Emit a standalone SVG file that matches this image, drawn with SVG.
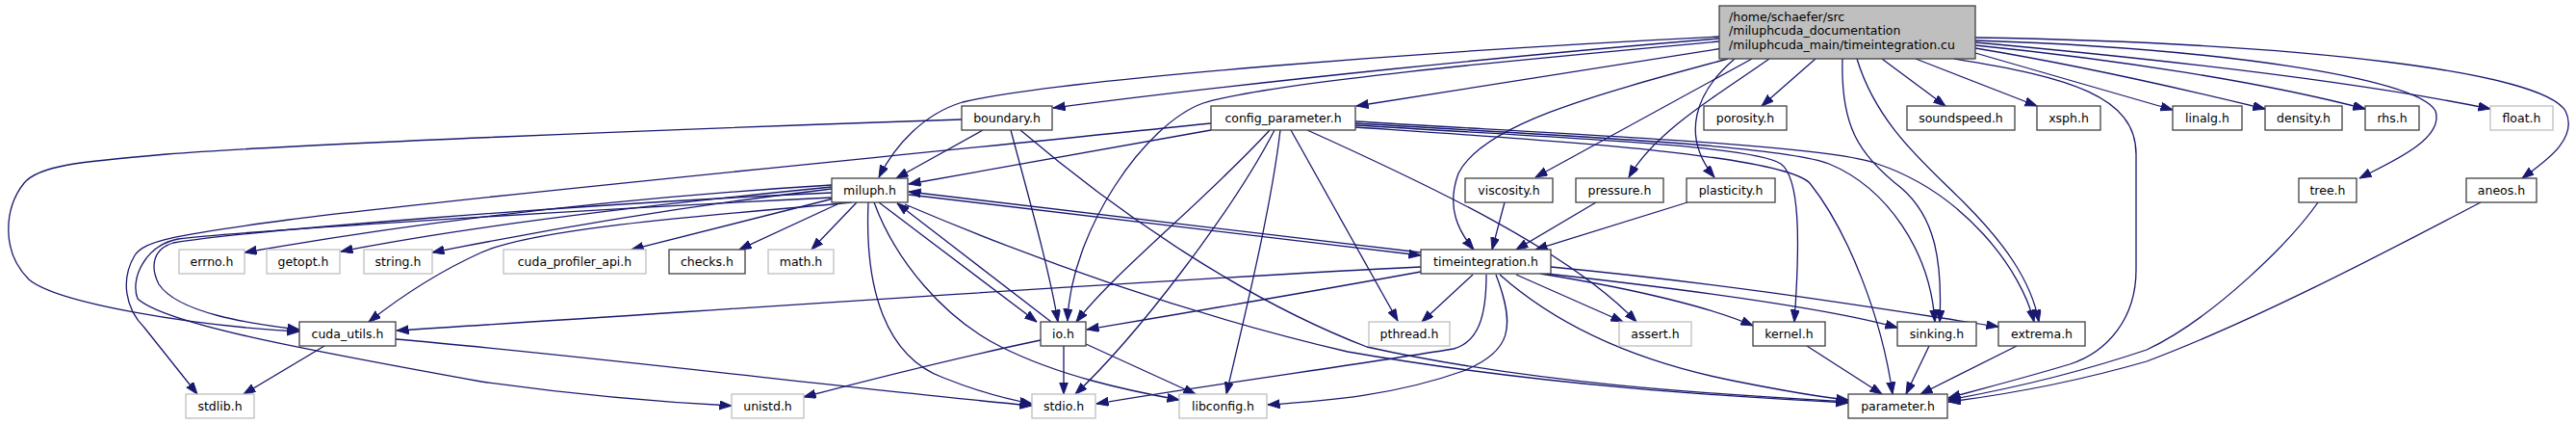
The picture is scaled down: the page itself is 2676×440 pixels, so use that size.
<svg xmlns="http://www.w3.org/2000/svg" width="2676" height="440" viewBox="0 0 2676 440">
<style>
.n rect{fill:#fff;stroke:#404040;stroke-width:1.3}
.g rect{fill:#fff;stroke:#bfbfbf;stroke-width:1.3}
.r rect{fill:#bfbfbf;stroke:#404040;stroke-width:1.3}
text{font-family:"DejaVu Sans",sans-serif;font-size:12.5px;fill:#000}
.n text,.g text{text-anchor:middle}
#edges path{fill:none;stroke:#191970;stroke-width:1.3;marker-end:url(#ah)}
</style>
<defs>
<marker id="ah" markerUnits="userSpaceOnUse" markerWidth="13" markerHeight="10" refX="12.5" refY="4.5" orient="auto"><path d="M0,0L12.5,4.5L0,9z" fill="#191970" stroke="#191970" stroke-width="1"/></marker>
</defs>
<rect width="2676" height="440" fill="#fff"/>
<g id="edges">
<path d="M1786,38 C1500,52 1100,82 1000,106 C960,118 930,150 913,184"/>
<path d="M1786,40 C1600,55 1300,85 1094,112"/>
<path d="M1786,43 C1600,60 1320,85 1250,107 C1190,128 1112,240 1109,333"/>
<path d="M1790,50 L1409,110"/>
<path d="M1795,61 C1650,100 1540,130 1515,180 C1502,215 1515,240 1531,259"/>
<path d="M1820,61 L1595,184"/>
<path d="M1838,61 C1790,95 1720,135 1692,184"/>
<path d="M1802,61 C1762,95 1745,140 1781,184"/>
<path d="M1886,61 L1830,110"/>
<path d="M1955,61 L2021,110"/>
<path d="M1990,61 L2116,110"/>
<path d="M2052,55 L2257,114"/>
<path d="M2052,50 C2150,66 2250,88 2353,113"/>
<path d="M2052,47 C2200,62 2350,85 2457,113"/>
<path d="M2052,44 C2250,62 2450,85 2587,113"/>
<path d="M2052,42 C2300,50 2510,80 2530,115 C2540,145 2480,170 2451,185"/>
<path d="M2052,39 C2400,45 2640,75 2665,115 C2680,145 2640,170 2620,185"/>
<path d="M2030,61 C2150,80 2219,100 2219,160 L2219,280 C2219,330 2190,365 2150,378 C2100,393 2060,403 2024,413"/>
<path d="M1914,61 C1912,130 1930,160 1975,195 C2010,225 2018,270 2015,334"/>
<path d="M1929,61 C1950,130 2000,170 2040,210 C2080,250 2110,290 2118,334"/>
<path d="M1408,128 C1600,140 1850,150 1900,170 C1960,195 2005,260 2010,334"/>
<path d="M1408,126 C1600,138 1900,150 1950,170 C2040,200 2100,280 2113,334"/>
<path d="M1408,130 C1600,142 1820,150 1850,170 C1870,185 1870,250 1864,334"/>
<path d="M1408,132 C1600,145 1850,160 1880,190 C1920,240 1955,330 1966,409"/>
<path d="M1258,135 L944,191"/>
<path d="M1319,135 C1250,210 1160,280 1118,334"/>
<path d="M1324,135 C1280,220 1180,350 1117,409"/>
<path d="M1330,135 C1320,220 1290,340 1274,409"/>
<path d="M1341,135 L1452,333"/>
<path d="M1358,135 C1480,190 1630,260 1700,334"/>
<path d="M1258,128 C900,165 450,208 300,228 C180,244 150,250 140,265 C125,290 130,320 150,340 C170,365 190,390 205,409"/>
<path d="M1021,135 L931,185"/>
<path d="M1050,135 C1070,210 1090,280 1099,334"/>
<path d="M1060,135 C1160,220 1290,310 1420,360 C1600,400 1800,410 1920,417"/>
<path d="M999,124 C700,134 300,150 173,160 C80,168 40,172 25,190 C5,215 0,260 30,290 C60,315 200,338 311,344"/>
<path d="M864,192 C650,205 450,228 254,262"/>
<path d="M864,194 C700,210 500,232 354,261"/>
<path d="M864,196 C700,215 560,240 449,262"/>
<path d="M866,206 L656,259"/>
<path d="M874,210 L768,259"/>
<path d="M890,210 L843,259"/>
<path d="M885,210 C760,222 560,235 500,262 C460,280 420,305 383,334"/>
<path d="M864,200 C600,212 250,240 180,252 C160,258 155,275 165,295 C185,325 260,336 311,342"/>
<path d="M864,205 C600,218 250,240 185,248 C150,255 135,290 143,310 C170,335 300,360 500,396 C600,410 700,418 760,421"/>
<path d="M913,210 L1077,334"/>
<path d="M1092,334 L932,211"/>
<path d="M902,210 C898,300 920,370 980,392 C1020,408 1050,415 1072,419"/>
<path d="M908,210 C930,270 980,330 1040,360 C1100,390 1170,405 1225,415"/>
<path d="M940,212 C1100,280 1250,330 1400,365 C1600,400 1800,412 1920,418"/>
<path d="M944,202 L1476,265"/>
<path d="M1476,262 L944,199"/>
<path d="M1530,285 L1477,334"/>
<path d="M1544,285 C1544,330 1535,355 1510,362 C1400,380 1250,400 1139,419"/>
<path d="M1554,285 C1575,340 1570,365 1520,385 C1450,410 1380,416 1317,420"/>
<path d="M1575,285 L1686,334"/>
<path d="M1558,285 C1620,340 1700,375 1800,395 C1850,405 1890,412 1920,415"/>
<path d="M1600,284 C1700,300 1780,320 1821,338"/>
<path d="M1598,283 C1750,300 1900,320 1971,340"/>
<path d="M1611,277 C1800,295 1950,320 2076,339"/>
<path d="M1476,277 C1200,290 700,325 412,343"/>
<path d="M1476,282 C1350,305 1200,330 1129,342"/>
<path d="M1105,359 L1105,409"/>
<path d="M1128,357 L1242,409"/>
<path d="M1081,353 C1000,370 900,395 835,412"/>
<path d="M337,359 L253,409"/>
<path d="M411,352 C600,368 900,405 1072,421"/>
<path d="M1877,359 L1955,409"/>
<path d="M2004,359 L1980,409"/>
<path d="M2095,359 L1995,409"/>
<path d="M2408,210 C2380,250 2300,330 2230,363 C2150,390 2080,405 2024,415"/>
<path d="M2577,210 C2500,250 2350,330 2230,375 C2150,398 2080,410 2024,417"/>
<path d="M1563,210 L1550,259"/>
<path d="M1658,210 L1575,259"/>
<path d="M1753,210 L1595,259"/>
</g>
<g id="root" class="r"><rect x="1786" y="6" width="266" height="55"/>
<text x="1796" y="21.5">/home/schaefer/src</text><text x="1796" y="36">/miluphcuda_documentation</text><text x="1796" y="50.5">/miluphcuda_main/timeintegration.cu</text></g>
<g id="boundary" class="n"><rect x="999" y="110" width="94" height="25"/><text x="1046" y="126.5">boundary.h</text></g>
<g id="config_parameter" class="n"><rect x="1258" y="110" width="150" height="25"/><text x="1333" y="126.5">config_parameter.h</text></g>
<g id="porosity" class="n"><rect x="1770" y="110" width="86" height="25"/><text x="1813" y="126.5">porosity.h</text></g>
<g id="soundspeed" class="n"><rect x="1981" y="110" width="112" height="25"/><text x="2037" y="126.5">soundspeed.h</text></g>
<g id="xsph" class="n"><rect x="2116" y="110" width="66" height="25"/><text x="2149" y="126.5">xsph.h</text></g>
<g id="linalg" class="n"><rect x="2257" y="110" width="72" height="25"/><text x="2293" y="126.5">linalg.h</text></g>
<g id="density" class="n"><rect x="2353" y="110" width="80" height="25"/><text x="2393" y="126.5">density.h</text></g>
<g id="rhs" class="n"><rect x="2457" y="110" width="56" height="25"/><text x="2485" y="126.5">rhs.h</text></g>
<g id="float" class="g"><rect x="2587" y="110" width="65" height="25"/><text x="2619.5" y="126.5">float.h</text></g>
<g id="miluph" class="n"><rect x="864" y="185" width="79" height="25"/><text x="903.5" y="201.5">miluph.h</text></g>
<g id="viscosity" class="n"><rect x="1522" y="185" width="91" height="25"/><text x="1567.5" y="201.5">viscosity.h</text></g>
<g id="pressure" class="n"><rect x="1637" y="185" width="91" height="25"/><text x="1682.5" y="201.5">pressure.h</text></g>
<g id="plasticity" class="n"><rect x="1752" y="185" width="92" height="25"/><text x="1798" y="201.5">plasticity.h</text></g>
<g id="tree" class="n"><rect x="2388" y="185" width="60" height="25"/><text x="2418" y="201.5">tree.h</text></g>
<g id="aneos" class="n"><rect x="2562" y="185" width="73" height="25"/><text x="2598.5" y="201.5">aneos.h</text></g>
<g id="errno" class="g"><rect x="186" y="259" width="68" height="25"/><text x="220" y="275.5">errno.h</text></g>
<g id="getopt" class="g"><rect x="277" y="259" width="76" height="25"/><text x="315" y="275.5">getopt.h</text></g>
<g id="string" class="g"><rect x="378" y="259" width="71" height="25"/><text x="413.5" y="275.5">string.h</text></g>
<g id="cuda_profiler_api" class="g"><rect x="523" y="259" width="148" height="25"/><text x="597" y="275.5">cuda_profiler_api.h</text></g>
<g id="checks" class="n"><rect x="695" y="259" width="79" height="25"/><text x="734.5" y="275.5">checks.h</text></g>
<g id="math" class="g"><rect x="798" y="259" width="68" height="25"/><text x="832" y="275.5">math.h</text></g>
<g id="timeintegration" class="n"><rect x="1476" y="259" width="135" height="25"/><text x="1543.5" y="275.5">timeintegration.h</text></g>
<g id="cuda_utils" class="n"><rect x="311" y="334" width="100" height="25"/><text x="361" y="350.5">cuda_utils.h</text></g>
<g id="io" class="n"><rect x="1081" y="334" width="47" height="25"/><text x="1104.5" y="350.5">io.h</text></g>
<g id="pthread" class="g"><rect x="1422" y="334" width="84" height="25"/><text x="1464" y="350.5">pthread.h</text></g>
<g id="assert" class="g"><rect x="1682" y="334" width="75" height="25"/><text x="1719.5" y="350.5">assert.h</text></g>
<g id="kernel" class="n"><rect x="1821" y="334" width="75" height="25"/><text x="1858.5" y="350.5">kernel.h</text></g>
<g id="sinking" class="n"><rect x="1971" y="334" width="82" height="25"/><text x="2012" y="350.5">sinking.h</text></g>
<g id="extrema" class="n"><rect x="2076" y="334" width="90" height="25"/><text x="2121" y="350.5">extrema.h</text></g>
<g id="stdlib" class="g"><rect x="193" y="409" width="71" height="25"/><text x="228.5" y="425.5">stdlib.h</text></g>
<g id="unistd" class="g"><rect x="760" y="409" width="75" height="25"/><text x="797.5" y="425.5">unistd.h</text></g>
<g id="stdio" class="g"><rect x="1072" y="409" width="66" height="25"/><text x="1105" y="425.5">stdio.h</text></g>
<g id="libconfig" class="g"><rect x="1225" y="409" width="91" height="25"/><text x="1270.5" y="425.5">libconfig.h</text></g>
<g id="parameter" class="n"><rect x="1920" y="409" width="103" height="25"/><text x="1971.5" y="425.5">parameter.h</text></g>
</svg>
